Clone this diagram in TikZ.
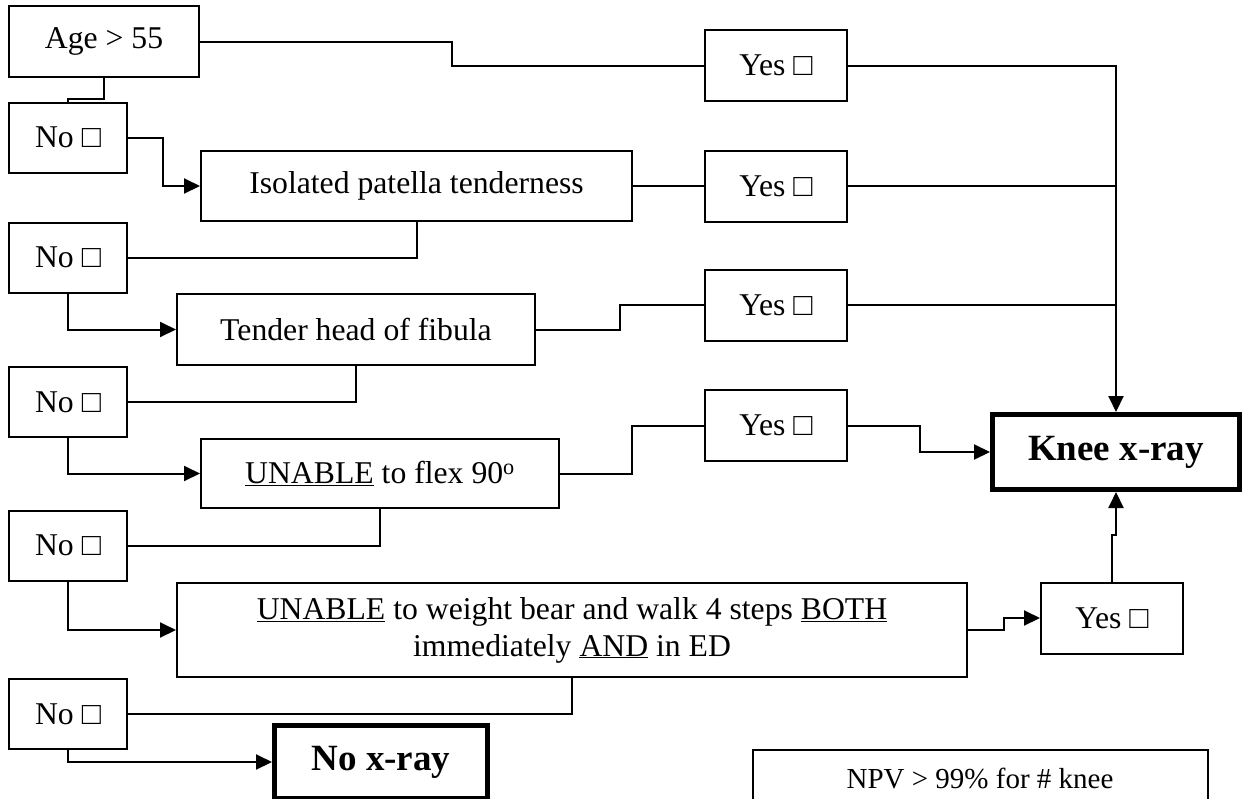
\documentclass[tikz,border=0pt]{standalone}
\usepackage{fontspec}
\setmainfont{Liberation Serif}
\usetikzlibrary{arrows.meta}
\begin{document}
\begin{tikzpicture}[x=1pt,y=-1pt,line width=2pt,
  box/.style={draw,line width=2pt,inner sep=0pt,align=center,font=\fontsize{31.7}{37}\selectfont},
  nobox/.style={box,minimum width=118pt,minimum height=70pt},
  yesbox/.style={box,minimum width=142pt,minimum height=71pt},
  endbox/.style={box,line width=5pt,font=\fontsize{37}{43}\selectfont\bfseries},
  arr/.style={-{Triangle[length=16pt,width=15pt]}}]
\useasboundingbox (0,0) rectangle (1242,798);
\clip (0,0) rectangle (1242,798);
% questions
\node[box,minimum width=190pt,minimum height=71pt] (age) at (104,41.5) {Age > 55};
\node[box,minimum width=431pt,minimum height=70pt] (patella) at (416.5,186) {Isolated patella tenderness};
\node[box,minimum width=358pt,minimum height=71pt] (fibula) at (356,329.5) {Tender head of fibula};
\node[box,minimum width=358pt,minimum height=69pt] (flex) at (380,473.5) {\underline{UNABLE} to flex 90\textsuperscript{o}};
\node[box,minimum width=790pt,minimum height=94pt] (walk) at (572,630) {\underline{UNABLE} to weight bear and walk 4 steps \underline{BOTH}\\ immediately \underline{AND} in ED};
% answers
\node[nobox] (no1) at (68,137.5) {No □};
\node[nobox] (no2) at (68,257.5) {No □};
\node[nobox] (no3) at (68,402) {No □};
\node[nobox] (no4) at (68,545.5) {No □};
\node[nobox] (no5) at (68,714) {No □};
\node[yesbox] (yes1) at (776,65.5) {Yes □};
\node[yesbox] (yes2) at (776,186) {Yes □};
\node[yesbox] (yes3) at (776,305) {Yes □};
\node[yesbox] (yes4) at (776,425.5) {Yes □};
\node[yesbox] (yes5) at (1112,618) {Yes □};
% outcomes
\node[endbox,minimum width=247pt,minimum height=75pt] (knee) at (1116,452) {Knee x-ray};
\node[endbox,minimum width=213pt,minimum height=73pt] (noxray) at (381,762) {No x-ray};
\node[box,minimum width=455pt,minimum height=56pt,font=\fontsize{29}{34}\selectfont] (npv) at (980,778) {NPV > 99\% for \# knee};
% connectors
\draw (age.east) -- ++(252,0) |- (yes1.west);
\draw (age.south) -- ++(0,21) -| (no1.north);
\draw[arr] (no1.east) -- ++(35,0) |- (patella.west);
\draw (patella.east) -- (yes2.west);
\draw (patella.south) |- (no2.east);
\draw[arr] (no2.south) |- (fibula.west);
\draw (fibula.east) -- ++(84,0) |- (yes3.west);
\draw (fibula.south) |- (no3.east);
\draw[arr] (no3.south) |- (flex.west);
\draw (flex.east) -- ++(72,0) |- (yes4.west);
\draw[arr] (yes4.east) -- ++(72,0) |- (knee.west);
\draw (flex.south) |- (no4.east);
\draw[arr] (no4.south) |- (walk.west);
\draw[arr] (walk.east) -- ++(36,0) |- (yes5.west);
\draw (walk.south) |- (no5.east);
\draw[arr] (no5.south) |- (noxray.west);
\draw[arr] (yes5.north) -- ++(0,-47) -| (knee.south);
\coordinate (rail) at (yes1.east -| knee.north);
\draw[arr] (yes1.east) -- (rail) -- (knee.north);
\draw (yes2.east) -- (yes2.east -| knee.north);
\draw (yes3.east) -- (yes3.east -| knee.north);
\end{tikzpicture}
\end{document}
